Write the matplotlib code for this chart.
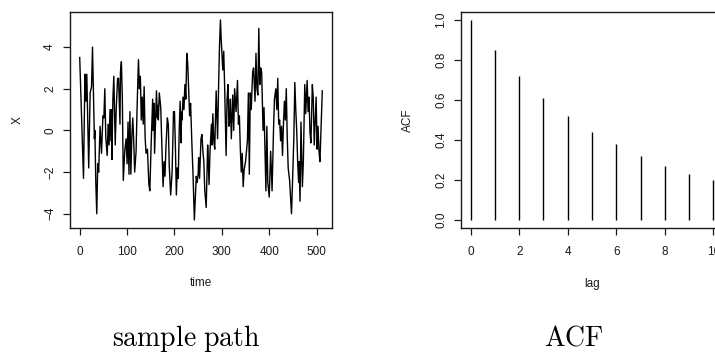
import numpy as np
import matplotlib
matplotlib.use("Agg")
import matplotlib.pyplot as plt

plt.rcParams['font.family'] = ['Liberation Sans', 'DejaVu Sans']
plt.rcParams['mathtext.fontset'] = 'cm'

# sample path (time, value)
path_t = [0, 8, 11, 13, 15, 19, 22, 25, 27, 31, 32, 34, 36, 38, 40, 43, 46, 49, 51, 53,
          55, 58, 60, 62, 64, 66, 67, 68, 70, 72, 75, 77, 80, 82, 85, 86, 88, 90, 92, 95,
          98, 100, 102, 104, 106, 108, 110, 112, 114, 116, 119, 121, 124, 126, 128, 130,
          132, 134, 136, 138, 140, 143, 146, 148, 151, 154, 155, 157, 158, 162, 164, 165,
          166, 168, 171, 176, 178, 180, 182, 185, 187, 189, 192, 195, 198, 200, 202, 204,
          206, 208, 210, 212, 214, 215, 216, 218, 220, 222, 224, 226, 228, 232, 234, 237,
          239, 242, 246, 248, 250, 251, 253, 256, 258, 260, 262, 264, 267, 270, 271, 273,
          275, 278, 279, 281, 283, 285, 286, 288, 291, 293, 295, 297, 299, 302, 304, 306,
          309, 311, 313, 315, 317, 318, 320, 323, 325, 327, 330, 333, 335, 337, 339, 341,
          343, 345, 347, 350, 352, 354, 356, 358, 360, 362, 365, 367, 370, 372, 374, 376,
          378, 380, 382, 384, 387, 389, 393, 395, 397, 400, 403, 406, 409, 411, 414, 416,
          418, 420, 422, 424, 426, 428, 430, 432, 434, 436, 438, 440, 443, 447, 449, 452,
          454, 456, 458, 460, 462, 463, 465, 467, 470, 472, 475, 477, 478, 480, 482, 484,
          486, 488, 491, 493, 495, 497, 499, 501, 503, 505, 507, 509, 512]
path_x = [3.5, -2.3, 2.7, 1.4, 2.7, -1.8, 1.8, 2.1, 4.0, -0.4, 0.0, -2.5, -4.0, -1.6, -2.0, 0.2, -1.1, 0.7, 0.6, 2.0,
          -0.3, -1.2, 0.3, -0.7, 1.0, -0.5, 1.0, -1.4, 1.5, 2.6, -0.7, 1.0, 2.5, 2.5, 0.3, 2.8, 3.3, 1.5, -2.4, -1.0,
          -0.4, -1.6, 0.4, -2.1, 0.9, -2.1, -0.3, 0.6, -0.5, -2.0, -1.0, 1.0, 3.4, 2.0, 2.6, 0.5,
          1.6, 0.3, 2.1, -0.3, -1.1, -0.9, -2.6, -2.9, -0.5, 1.5, 0.0, 1.3, -1.1, 1.9, 0.6, 1.2,
          0.5, 1.8, 1.1, -2.7, -1.5, -2.2, -0.8, 0.6, 0.3, -1.7, -3.1, -2.0, 0.9, 0.9, -0.8, -3.1,
          -1.8, -2.3, 0.0, 1.4, -0.6, 0.9, 0.5, 1.6, 1.0, 2.2, 1.5, 3.7, 3.2, 0.7, 1.3, -0.8,
          -2.0, -4.3, -2.2, -2.5, -2.1, -1.3, -2.3, -0.4, -0.2, -1.0, -1.5, -2.9, -3.7, -0.7, -1.2, -2.6,
          -1.0, 0.3, -0.7, 0.8, -0.5, -0.9, 0.0, 1.9, -0.4, 2.0, 4.0, 5.3, 4.2, 2.9, 3.8, 2.0,
          -1.2, 1.5, 2.2, 0.2, 0.5, 1.5, -0.4, 1.7, 0.0, 2.0, 0.9, 2.4, 0.3, 0.7, -0.9, -2.0,
          -1.1, -2.7, -1.9, -1.5, -1.0, -0.5, 1.8, -2.1, 1.8, 1.0, 2.8, 3.0, 1.4, 3.7, 2.0, 1.7,
          4.9, 2.2, 3.0, 2.8, 0.0, 1.1, -2.9, 0.2, -2.5, -3.2, -1.0, -2.9, 0.0, 1.5, 2.0, 1.0,
          2.5, 0.3, 0.5, -0.5, 0.2, -1.2, 0.3, 1.4, 0.5, 2.0, -0.3, -1.8, -2.4, -4.0, -2.6, -0.3,
          2.3, 1.0, 0.0, -1.5, -2.5, -1.5, -3.4, 0.4, -2.7, -1.5, 2.2, 0.8, 1.3, 2.4, 0.9, 1.6,
          -0.1, -0.6, 2.2, 1.5, -0.7, 0.5, 1.6, -0.9, 0.2, -1.0, -1.5, -0.1, 1.9]

# autocorrelation by lag
lags = [0, 1, 2, 3, 4, 5, 6, 7, 8, 9, 10]
acf = [1.0, 0.85, 0.72, 0.61, 0.52, 0.44, 0.38, 0.32, 0.27, 0.23, 0.20]

W, H = 715, 356
fig = plt.figure(figsize=(W / 100, H / 100), dpi=100)
ink = '#1a1a1a'


def r_range(lo, hi):
    # R pads the data range by 4% on each side
    d = (hi - lo) * 0.04
    return lo - d, hi + d


def r_style(ax):
    for s in ax.spines.values():
        s.set_linewidth(1.0)
        s.set_color(ink)
    ax.tick_params(length=5, width=0.9, labelsize=8.5, color=ink, labelcolor=ink)
    ax.tick_params(axis='x', pad=8)
    ax.tick_params(axis='y', pad=5)
    for lab in ax.get_yticklabels():
        lab.set_rotation(90)
        lab.set_va('center')


# left panel: sample path
ax1 = fig.add_axes([70 / W, 1 - 228 / H, 262 / W, 216 / H])
ax1.plot(path_t, path_x, color='black', lw=1.0)
ax1.set_xlim(*r_range(min(path_t), max(path_t)))
ax1.set_ylim(*r_range(min(path_x), max(path_x)))
ax1.set_xticks([0, 100, 200, 300, 400, 500])
ax1.set_yticks([-4, -2, 0, 2, 4])
ax1.set_xlabel('time', fontsize=8.5, labelpad=14, color=ink)
ax1.set_ylabel('X', fontsize=8.5, labelpad=15, color=ink)
r_style(ax1)

# right panel: ACF
ax2 = fig.add_axes([461 / W, 1 - 228 / H, 262 / W, 216 / H])
ax2.vlines(lags, 0, acf, color='black', lw=1.0)
ax2.set_xlim(*r_range(min(lags), max(lags)))
ax2.set_ylim(*r_range(0, max(acf)))
ax2.set_xticks([0, 2, 4, 6, 8, 10])
ax2.set_yticks([0.0, 0.2, 0.4, 0.6, 0.8, 1.0])
ax2.set_yticklabels(['0.0', '0.2', '0.4', '0.6', '0.8', '1.0'])
ax2.set_xlabel('lag', fontsize=8.5, labelpad=14, color=ink)
ax2.set_ylabel('ACF', fontsize=8.5, labelpad=15, color=ink)
r_style(ax2)

fig.text(186 / W, 1 - 346 / H, r'$\mathrm{sample\ path}$', fontsize=20, ha='center', va='baseline')
fig.text(574 / W, 1 - 346 / H, r'$\mathrm{ACF}$', fontsize=20, ha='center', va='baseline')

fig.savefig('out.png', dpi=100)
